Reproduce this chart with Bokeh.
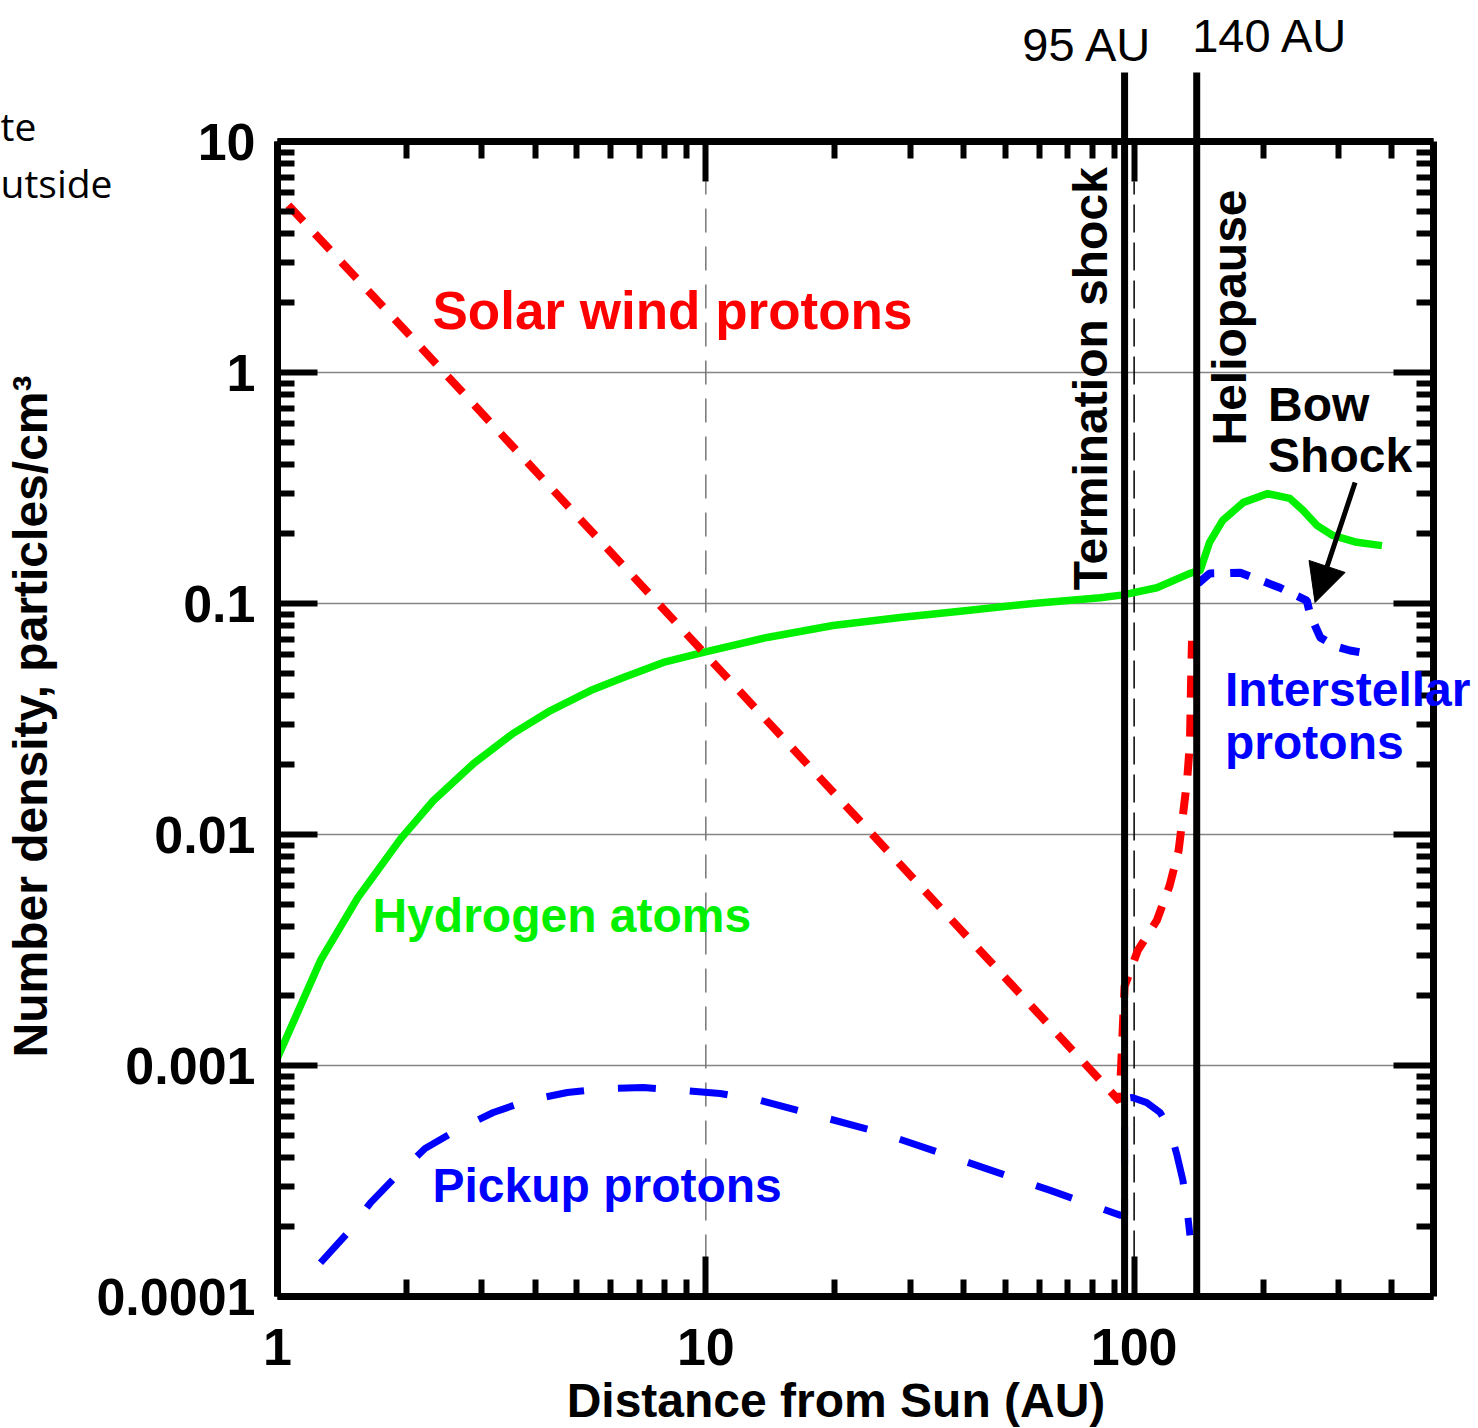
import math

from bokeh.embed import file_html
from bokeh.models import Arrow, FixedTicker, Grid, Label, LogAxis, NormalHead
from bokeh.plotting import figure
from bokeh.resources import INLINE

# ---------------------------------------------------------------- data (AU, particles/cm^3)
solar_wind_r = [1.06, 2, 5, 10, 20, 50, 92.5, 95, 102, 113, 121, 127, 130, 133, 135, 135.5, 136, 136.5]
solar_wind_n = [5.3, 1.5, 0.24, 0.06, 0.015, 0.0024, 0.0007, 0.0022, 0.00315, 0.00425, 0.0060,
                0.0085, 0.0121, 0.0173, 0.025, 0.0358, 0.0518, 0.069]

hydrogen_r = [1.0, 1.10, 1.26, 1.54, 1.94, 2.31, 2.87, 3.55, 4.34, 5.38, 6.42, 7.96, 9.87, 13.9,
              19.8, 28.4, 40.8, 58.1, 83.3, 94.3, 113, 135, 142.6, 150, 161, 180, 205, 231, 248,
              267, 291, 331, 379]
hydrogen_n = [0.00108, 0.00161, 0.00285, 0.00533, 0.0096, 0.0140, 0.0203, 0.0274, 0.0344, 0.0420,
              0.0478, 0.0556, 0.0614, 0.0713, 0.0803, 0.0869, 0.0933, 0.100, 0.106, 0.109, 0.117,
              0.135, 0.139, 0.184, 0.229, 0.274, 0.299, 0.285, 0.253, 0.218, 0.197, 0.184, 0.178]

pickup_r = [1.26, 1.46, 1.65, 1.9, 2.21, 2.64, 3.19, 3.85, 4.75, 5.77, 7.15, 8.81, 10.8, 13.4,
            25.5, 63.7, 92.7, 95, 95, 99, 107, 115, 121, 126, 130, 133, 135]
pickup_n = [0.000140, 0.000189, 0.000255, 0.000334, 0.000437, 0.000529, 0.000626, 0.000706,
            0.000764, 0.000795, 0.000803, 0.000780, 0.000757, 0.000706, 0.000513, 0.000288,
            0.000225, 0.000225, 0.00072, 0.000727, 0.000691, 0.000626, 0.000534, 0.000407,
            0.000318, 0.000236, 0.000184]

interstellar_r = [141, 150, 177, 219, 253, 258, 272, 295, 319, 350]
interstellar_n = [0.122, 0.135, 0.136, 0.117, 0.103, 0.0887, 0.0713, 0.0652, 0.0626, 0.0608]

boundary_r = [95, 140]
boundary_labels = ["95 AU", "140 AU"]

x_major = [1, 10, 100]
x_major_labels = ["1", "10", "100"]
x_minor = [2, 3, 4, 5, 6, 7, 8, 9, 20, 30, 40, 50, 60, 70, 80, 90, 200, 300, 400]
y_major = [1e-4, 1e-3, 1e-2, 1e-1, 1, 10]
y_major_labels = ["0.0001", "0.001", "0.01", "0.1", "1", "10"]
y_minor = [m * 10.0 ** e for e in range(-4, 1) for m in range(2, 10)]
y_grid = [1e-3, 1e-2, 1e-1, 1]

# ---------------------------------------------------------------- layout
# The plotting frame covers the whole canvas; the boxed data area sits inside it
# and its edges are axes pinned to fixed data locations.
W, H = 1478, 1428
BOX_L, BOX_R, BOX_T, BOX_B = 277, 1433, 141, 1296          # box edges in canvas pixels
X_LO, X_HI = 1, 500
Y_LO, Y_HI = 1e-4, 10
DEC_X = (BOX_R - BOX_L) / math.log10(X_HI / X_LO)          # pixels per decade
DEC_Y = (BOX_B - BOX_T) / math.log10(Y_HI / Y_LO)


def px_right(x, px):
    return x * 10 ** (px / DEC_X)


def px_up(y, px):
    return y * 10 ** (px / DEC_Y)


x_range = (px_right(X_LO, -BOX_L), px_right(X_HI, W - BOX_R))
y_range = (px_up(Y_LO, -(H - BOX_B)), px_up(Y_HI, BOX_T))

FONT = "Liberation Sans"
RED, GREEN, BLUE = "#ff0000", "#00f000", "#0000ff"

p = figure(width=W, height=H, x_axis_type="log", y_axis_type="log",
           x_range=x_range, y_range=y_range,
           x_axis_location=None, y_axis_location=None,
           output_backend="svg", toolbar_location=None,
           min_border=0, min_border_left=0, min_border_right=0,
           min_border_top=0, min_border_bottom=0)
p.outline_line_color = None
p.background_fill_color = "white"
p.border_fill_color = "white"
for r in p.center:
    if isinstance(r, Grid):
        r.visible = False


def make_axis(major, minor, labels, location, bounds, show_labels):
    ax = LogAxis(ticker=FixedTicker(ticks=major, minor_ticks=minor),
                 fixed_location=location, bounds=bounds)
    ax.axis_line_width = 7
    ax.axis_line_color = "black"
    ax.major_tick_line_width = 6
    ax.minor_tick_line_width = 6
    ax.major_tick_line_color = "black"
    ax.minor_tick_line_color = "black"
    ax.major_tick_in = 40
    ax.major_tick_out = 0
    ax.minor_tick_in = 17
    ax.minor_tick_out = 0
    ax.major_label_text_font = FONT
    ax.major_label_text_font_style = "bold"
    ax.major_label_overrides = dict(zip(major, labels))
    if show_labels:
        ax.major_label_text_font_size = "52px"
        ax.major_label_text_color = "black"
    else:
        ax.major_label_text_font_size = "1px"
        ax.major_label_text_color = None
    return ax


bottom_ax = make_axis(x_major, x_minor, x_major_labels, Y_LO, (X_LO, X_HI), True)
bottom_ax.major_label_standoff = 32
top_ax = make_axis(x_major, x_minor, x_major_labels, Y_HI, (X_LO, X_HI), False)
left_ax = make_axis(y_major, y_minor, y_major_labels, X_LO, (Y_LO, Y_HI), True)
left_ax.major_label_standoff = 22
right_ax = make_axis(y_major, y_minor, y_major_labels, X_HI, (Y_LO, Y_HI), False)
p.add_layout(bottom_ax, "below")
p.add_layout(top_ax, "above")
p.add_layout(left_ax, "left")
p.add_layout(right_ax, "right")

# decade grid lines across the box
p.segment(x0=[X_LO] * len(y_grid), y0=y_grid, x1=[X_HI] * len(y_grid), y1=y_grid,
          line_color="#858585", line_width=1.5, level="underlay")

# vertical reference lines at 10 AU (grey) and 100 AU (black)
p.segment(x0=[10], y0=[Y_LO], x1=[10], y1=[px_up(Y_HI, -40)],
          line_color="#777777", line_width=1.5, line_dash="24 14")
p.segment(x0=[100], y0=[Y_LO], x1=[100], y1=[px_up(Y_HI, -40)],
          line_color="black", line_width=1.5, line_dash="28 10")

# density curves
p.line(hydrogen_r, hydrogen_n, line_color=GREEN, line_width=7.5, line_join="round")
p.line(solar_wind_r, solar_wind_n, line_color=RED, line_width=8, line_dash="22 17")
p.line(pickup_r, pickup_n, line_color=BLUE, line_width=7, line_dash="38 34")
p.line(interstellar_r, interstellar_n, line_color=BLUE, line_width=8, line_dash="20 16")

# termination shock and heliopause, drawn up past the top of the box
p.segment(x0=boundary_r, y0=[Y_LO] * 2, x1=boundary_r, y1=[px_up(Y_HI, 69)] * 2,
          line_color="black", line_width=7)

p.add_layout(Arrow(end=NormalHead(size=38, fill_color="black", line_color="black"),
                   x_start=328, y_start=0.334, x_end=264.5, y_end=0.101,
                   line_color="black", line_width=5))


def label(x, y, text, color, size="48px", style="bold", angle=0.0, font=FONT, align="left"):
    p.add_layout(Label(x=x, y=y, text=text, text_color=color, text_font=font,
                       text_font_size=size, text_font_style=style, angle=angle,
                       text_align=align, text_baseline="alphabetic"))


label(54.8, 26.3, boundary_labels[0], "black", size="47px", style="normal")
label(136.6, 28.8, boundary_labels[1], "black", size="47px", style="normal")

label(2.30, 1.855, "Solar wind protons", RED, size="53px")
label(1.666, 0.00446, "Hydrogen atoms", GREEN)
label(2.30, 0.000303, "Pickup protons", BLUE)
label(163, 0.0425, "Interstellar", BLUE)
label(163, 0.0250, "protons", BLUE)
label(78.9, 0.114, "Termination shock", "black", angle=math.pi / 2)
label(166.6, 0.483, "Heliopause", "black", angle=math.pi / 2)
label(205.5, 0.727, "Bow", "black")
label(205.5, 0.4375, "Shock", "black")

# axis titles
label(px_right(X_LO, 558.5), px_up(Y_LO, -104), "Distance from Sun (AU)", "black", align="center")
label(px_right(X_LO, -247), px_up(Y_LO, 580), "Number density, particles/cm³", "black",
      angle=math.pi / 2, align="center")

# caption fragments at the left edge
label(px_right(X_LO, -BOX_L), px_up(Y_HI, 16), "te", "black", size="39px", style="normal", font="Open Sans")
label(px_right(X_LO, -BOX_L), px_up(Y_HI, -41), "utside", "black", size="39px", style="normal", font="Open Sans")

open("out.html", "w").write(file_html(p, INLINE))
